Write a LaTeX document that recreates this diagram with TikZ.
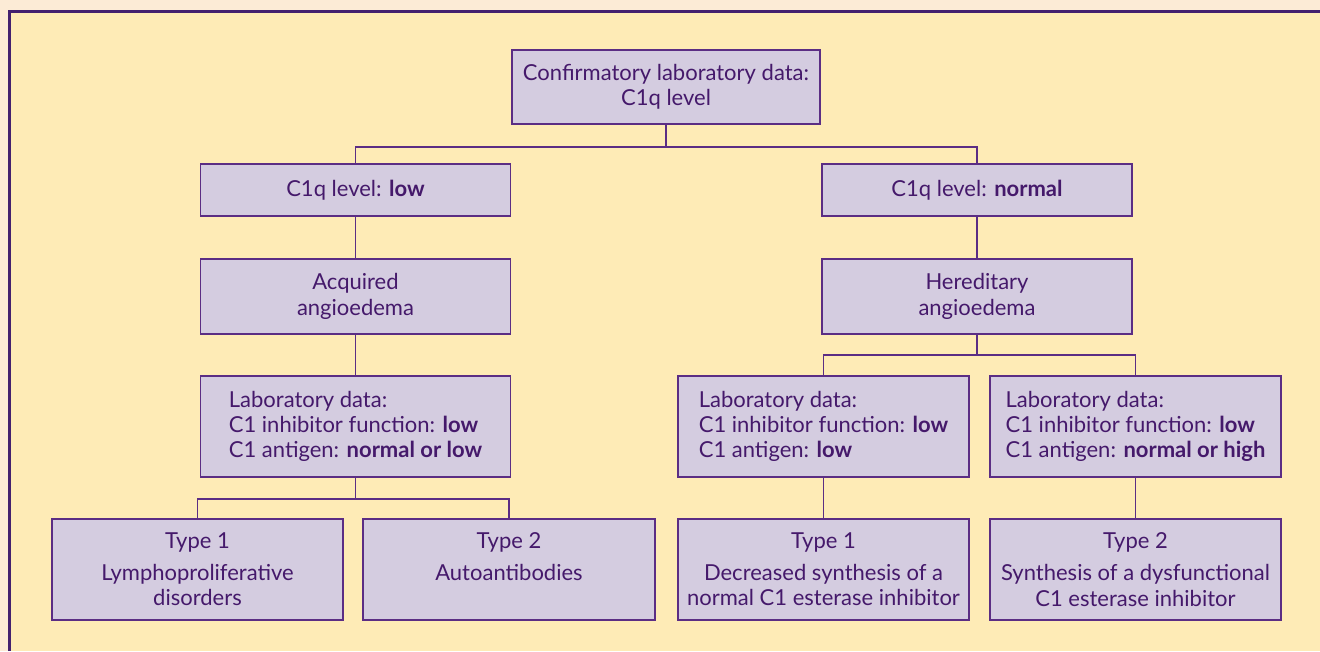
\documentclass[tikz,border=0pt]{standalone}
\usepackage{fontspec}
\setmainfont{Lato}
\definecolor{pagebg}{HTML}{FCEBD6}
\definecolor{innerbg}{HTML}{FEEBB6}
\definecolor{framecol}{HTML}{43206F}
\definecolor{boxfill}{HTML}{D4CCE0}
\definecolor{boxline}{HTML}{5B2D84}
\definecolor{txt}{HTML}{45196B}
\tikzset{
  box/.style={draw=boxline, fill=boxfill, line width=1.1pt, text=txt, align=center,
    inner sep=0pt, font=\fontsize{16.5}{19}\selectfont},
  conn/.style={draw=boxline, line width=1.1pt},
}
\begin{document}
\begin{tikzpicture}[x=0.75pt,y=-0.75pt]
\useasboundingbox (0,0) rectangle (1320,651);
\fill[pagebg] (0,0) rectangle (1320,651);
\fill[innerbg] (9.5,11) rectangle (1320,651);
\draw[framecol, line width=2.25pt] (9.5,651) -- (9.5,11) -- (1320,11);

\node[box, minimum width=308*0.75pt, minimum height=74*0.75pt] (top) at (666,87)
  {Confirmatory laboratory data:\\C1q level};
\node[box, minimum width=310*0.75pt, minimum height=52*0.75pt] (low) at (355.5,190)
  {C1q level: \textbf{low}};
\node[box, minimum width=310*0.75pt, minimum height=52*0.75pt] (normal) at (977,190)
  {C1q level: \textbf{normal}};
\node[box, minimum width=310*0.75pt, minimum height=75*0.75pt] (acq) at (355.5,296.5)
  {Acquired\\angioedema};
\node[box, minimum width=310*0.75pt, minimum height=75*0.75pt] (her) at (977,296.5)
  {Hereditary\\angioedema};
\node[box, align=left, minimum width=310*0.75pt, minimum height=101*0.75pt] (lab1) at (355.5,426.5)
  {Laboratory data:\\C1 inhibitor function: \textbf{low}\\C1 antigen: \textbf{normal or low}};
\node[box, align=left, minimum width=291*0.75pt, minimum height=101*0.75pt] (lab2) at (823.5,426.5)
  {Laboratory data:\\C1 inhibitor function: \textbf{low}\\C1 antigen: \textbf{low}};
\node[box, align=left, minimum width=291*0.75pt, minimum height=101*0.75pt] (lab3) at (1135.5,426.5)
  {Laboratory data:\\C1 inhibitor function: \textbf{low}\\C1 antigen: \textbf{normal or high}};
\node[box, minimum width=291*0.75pt, minimum height=101*0.75pt] (t1) at (197.5,569.5)
  {Type 1\\[5pt]Lymphoproliferative\\disorders};
\node[box, minimum width=292*0.75pt, minimum height=101*0.75pt] (t2) at (509,569.5)
  {Type 2\\[5pt]Autoantibodies\\\phantom{disorders}};
\node[box, minimum width=291*0.75pt, minimum height=101*0.75pt] (t3) at (823.5,569.5)
  {Type 1\\[5pt]Decreased synthesis of a\\normal C1 esterase inhibitor};
\node[box, minimum width=291*0.75pt, minimum height=101*0.75pt] (t4) at (1135.5,569.5)
  {Type 2\\[5pt]Synthesis of a dysfunctional\\C1 esterase inhibitor};

\coordinate (j1) at (666,147);
\draw[conn] (top.south) -- (j1);
\draw[conn] (low.north) |- (j1) -| (normal.north);
\draw[conn] (low.south) -- (acq.north);
\draw[conn] (normal.south) -- (her.north);
\draw[conn] (acq.south) -- (lab1.north);
\coordinate (j2) at (977,355);
\draw[conn] (her.south) -- (j2);
\draw[conn] (lab2.north) |- (j2) -| (lab3.north);
\coordinate (j3) at (355.5,499);
\draw[conn] (lab1.south) -- (j3);
\draw[conn] (t1.north) |- (j3) -| (t2.north);
\draw[conn] (lab2.south) -- (t3.north);
\draw[conn] (lab3.south) -- (t4.north);
\end{tikzpicture}
\end{document}
